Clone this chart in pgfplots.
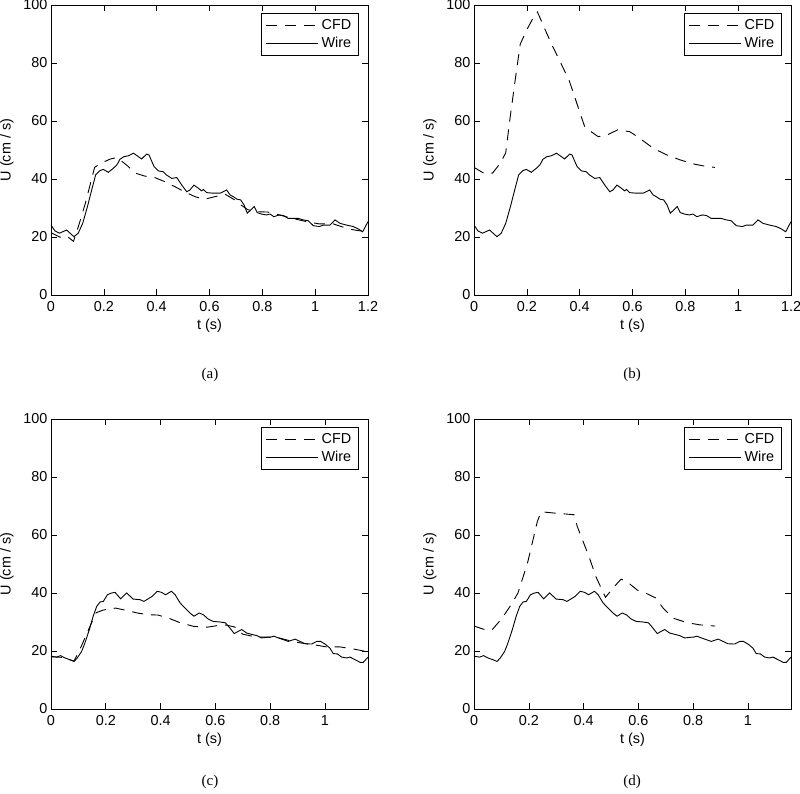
\documentclass[border=0pt]{standalone}
\usepackage{fontspec}
\setmainfont{Liberation Sans}
\newfontfamily\capfont{Liberation Serif}
\usepackage{pgfplots}
\pgfplotsset{compat=1.18}

\pgfplotstableread{
t U
0 24.1
0.015 22.1
0.032 21.3
0.059 22.4
0.087 20.1
0.103 21.3
0.12 24.7
0.138 30.5
0.154 36.2
0.169 41.4
0.185 42.9
0.198 43.3
0.217 42.3
0.236 43.7
0.249 44.8
0.261 46.8
0.276 47.7
0.293 48.0
0.312 48.9
0.331 47.7
0.343 46.9
0.362 48.6
0.371 48.3
0.39 44.3
0.406 42.8
0.425 42.5
0.437 41.4
0.457 40.2
0.476 40.5
0.495 37.9
0.514 35.6
0.526 36.2
0.541 37.9
0.558 36.8
0.57 35.9
0.577 36.4
0.589 35.3
0.615 35.1
0.64 35.1
0.652 35.6
0.665 36.2
0.678 34.5
0.69 33.9
0.705 33.0
0.718 32.8
0.731 31.0
0.743 28.2
0.756 29.3
0.769 30.5
0.781 28.4
0.797 27.9
0.816 27.6
0.829 27.9
0.844 27.0
0.864 27.6
0.88 27.4
0.898 26.4
0.917 26.4
0.936 26.4
0.955 25.9
0.974 25.6
0.993 23.9
1.016 23.6
1.031 24.1
1.056 24.1
1.075 25.9
1.094 24.7
1.119 24.1
1.144 23.6
1.163 22.8
1.18 21.8
1.2 25.3
}\wireAB

\pgfplotstableread{
t U
0 18.2
0.021 17.9
0.035 18.4
0.051 17.6
0.069 17.0
0.084 16.4
0.096 17.6
0.112 19.9
0.124 22.8
0.14 27.4
0.154 32.0
0.167 35.4
0.179 36.9
0.191 37.1
0.206 39.4
0.221 40.0
0.234 40.2
0.254 38.0
0.276 40.0
0.3 37.9
0.325 37.7
0.339 37.1
0.355 38.0
0.37 38.9
0.388 40.6
0.404 40.2
0.418 39.4
0.44 40.6
0.453 39.4
0.471 36.6
0.489 34.8
0.507 33.1
0.522 32.0
0.541 33.1
0.556 32.5
0.574 31.0
0.592 30.2
0.617 30.0
0.637 29.7
0.653 27.9
0.669 26.0
0.684 26.8
0.696 27.4
0.714 26.2
0.738 25.6
0.751 25.3
0.769 24.5
0.787 24.7
0.802 24.8
0.814 25.1
0.83 24.5
0.848 23.9
0.866 23.3
0.891 24.1
0.909 23.3
0.927 22.5
0.951 22.4
0.97 23.3
0.984 23.3
1.0 22.4
1.018 21.0
1.03 19.1
1.045 19.0
1.061 17.9
1.079 17.6
1.091 17.9
1.11 17.0
1.128 16.1
1.14 16.1
1.157 17.9
}\wireCD

\pgfplotstableread{
t U
0 21.5
0.035 19.9
0.06 20.3
0.085 18.5
0.105 24.0
0.13 31.6
0.165 44.0
0.19 45.5
0.225 46.9
0.25 47.4
0.29 44.5
0.32 42.0
0.355 41.0
0.39 40.6
0.43 39.1
0.47 37.3
0.505 35.6
0.545 33.9
0.58 33.0
0.62 33.9
0.66 34.7
0.695 32.8
0.72 31.0
0.745 29.4
0.785 28.7
0.82 28.6
0.864 27.6
0.915 26.4
0.967 25.3
1.016 24.5
1.069 24.5
1.126 22.8
1.163 22.2
1.2 21.8
}\cfdA

\pgfplotstableread{
t U
0 44.0
0.037 42.0
0.07 42.0
0.1 45.5
0.12 49.0
0.135 60.0
0.155 73.5
0.175 86.5
0.2 91.5
0.222 95.2
0.24 97.6
0.29 87.2
0.33 79.7
0.36 74.0
0.375 70.0
0.404 62.0
0.42 57.8
0.47 54.6
0.5 55.0
0.545 57.0
0.59 56.3
0.62 54.5
0.68 50.5
0.73 48.3
0.78 46.6
0.83 45.2
0.88 44.3
0.912 44.0
}\cfdB

\pgfplotstableread{
t U
0 18.0
0.04 17.8
0.084 16.5
0.11 21.5
0.14 28.0
0.165 33.2
0.19 34.1
0.235 34.8
0.28 33.9
0.32 33.0
0.36 32.5
0.39 32.4
0.43 31.3
0.47 29.8
0.52 28.5
0.57 28.2
0.63 29.1
0.67 28.3
0.7 25.8
0.75 24.8
0.82 24.8
0.865 23.7
0.909 22.8
0.957 22.2
1.006 21.4
1.055 21.4
1.104 20.7
1.157 19.7
}\cfdC

\pgfplotstableread{
t U
0 28.6
0.035 27.5
0.065 27.2
0.1 31.0
0.131 35.3
0.16 39.9
0.195 50.2
0.231 64.6
0.245 68.0
0.3 67.5
0.365 67.0
0.377 62.9
0.42 52.5
0.445 45.6
0.48 38.5
0.51 42.0
0.537 44.8
0.566 43.3
0.596 41.0
0.63 39.8
0.663 38.3
0.69 34.8
0.728 31.3
0.776 29.8
0.825 29.0
0.88 28.6
}\cfdD

\pgfplotsset{
  panel/.style={
    scale only axis, width=317pt, height=290pt,
    xmin=0, ymin=0, ymax=100,
    ytick={0,20,40,60,80,100},
    tick align=inside, major tick length=6pt,
    tick style={black, line width=0.6pt},
    axis line style={black, line width=0.8pt},
    /pgf/number format/assume math mode=true,
    ticklabel style={font=\fontsize{14.4}{16}\selectfont},
    xticklabel style={yshift=-3.2pt},
    label style={font=\fontsize{14.4}{16}\selectfont},
    xlabel={t (s)}, ylabel={U (cm / s)},
    xlabel style={at={(axis description cs:0.5,-0.1069)}, anchor=center},
    ylabel style={at={(axis description cs:-0.1388,0.5)}, anchor=center},
    legend cell align=left,
    legend style={at={(axis description cs:0.9716,0.9724)}, anchor=north east,
      draw=black, line width=0.6pt, inner xsep=4pt, inner ysep=3pt,
      font=\fontsize{14.4}{16}\selectfont,
      nodes={inner xsep=3.5pt, inner ysep=2.25pt, text height=10.5pt, text depth=3pt}},
    legend image code/.code={\draw[##1] (0pt,0pt) -- (52pt,0pt);},
  },
  cfd/.style={black, line width=0.9pt, dash pattern=on 11pt off 8pt},
  wire/.style={black, line width=0.9pt},
}

\begin{document}
\begin{tikzpicture}
\path[use as bounding box] (0pt,0pt) rectangle (800pt,794pt);

% (a)
\begin{axis}[panel, at={(51pt,499pt)}, anchor=south west, xmax=1.2,
  xtick={0,0.2,0.4,0.6,0.8,1,1.2}, xticklabels={0,0.2,0.4,0.6,0.8,1,1.2}]
\addplot[cfd] table[x=t,y=U] {\cfdA};
\addlegendentry{CFD}
\addplot[wire] table[x=t,y=U] {\wireAB};
\addlegendentry{Wire}
\end{axis}

% (b)
\begin{axis}[panel, at={(474pt,499pt)}, anchor=south west, xmax=1.2,
  xtick={0,0.2,0.4,0.6,0.8,1,1.2}, xticklabels={0,0.2,0.4,0.6,0.8,1,1.2}]
\addplot[cfd] table[x=t,y=U] {\cfdB};
\addlegendentry{CFD}
\addplot[wire] table[x=t,y=U] {\wireAB};
\addlegendentry{Wire}
\end{axis}

% (c)
\begin{axis}[panel, at={(51pt,85pt)}, anchor=south west, xmax=1.157,
  xtick={0,0.2,0.4,0.6,0.8,1}, xticklabels={0,0.2,0.4,0.6,0.8,1}]
\addplot[cfd] table[x=t,y=U] {\cfdC};
\addlegendentry{CFD}
\addplot[wire] table[x=t,y=U] {\wireCD};
\addlegendentry{Wire}
\end{axis}

% (d)
\begin{axis}[panel, at={(474pt,85pt)}, anchor=south west, xmax=1.157,
  xtick={0,0.2,0.4,0.6,0.8,1}, xticklabels={0,0.2,0.4,0.6,0.8,1}]
\addplot[cfd] table[x=t,y=U] {\cfdD};
\addlegendentry{CFD}
\addplot[wire] table[x=t,y=U] {\wireCD};
\addlegendentry{Wire}
\end{axis}

\node[font=\capfont\fontsize{15}{17}\selectfont] at (210pt,419pt) {(a)};
\node[font=\capfont\fontsize{15}{17}\selectfont] at (632pt,419pt) {(b)};
\node[font=\capfont\fontsize{15}{17}\selectfont] at (210pt,12pt) {(c)};
\node[font=\capfont\fontsize{15}{17}\selectfont] at (632pt,12pt) {(d)};
\end{tikzpicture}
\end{document}
